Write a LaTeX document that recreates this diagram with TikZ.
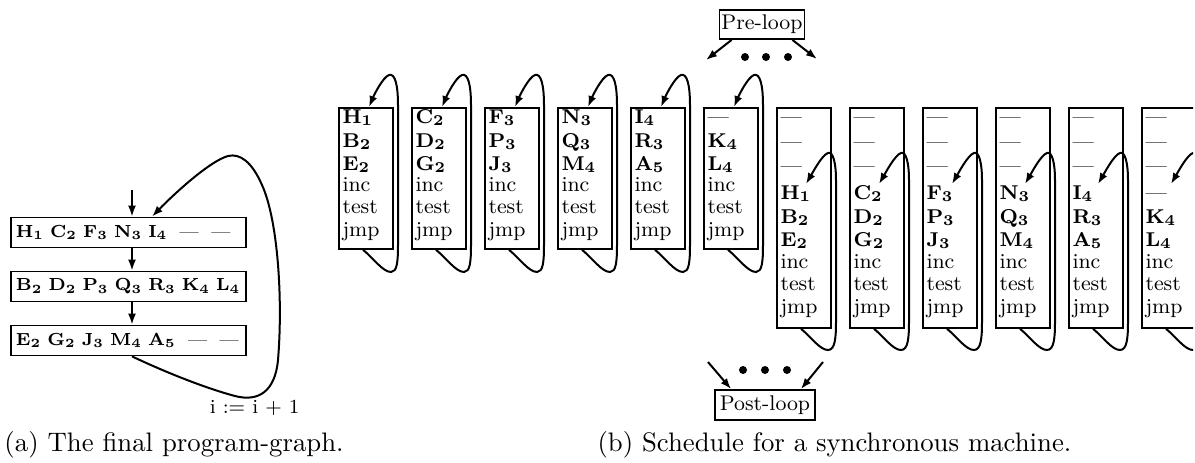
\documentclass[tikz,border=0pt]{standalone}
\usetikzlibrary{arrows.meta,calc}
\newcommand\op[1]{$\mathbf{#1}$}
\newcommand\gp{\hspace{2.4pt}}
\begin{document}
\begin{tikzpicture}[x=0.4pt,y=-0.4pt,
  >={Latex[length=4.4pt,width=3.2pt]},
  wire/.style={line width=0.8pt,->},
  frame/.style={draw,line width=0.7pt},
  colbox/.style={frame,inner sep=0pt,anchor=north west,minimum width=21.6pt},
  item/.style={anchor=base west,inner sep=0pt,font=\fontsize{8}{10}\selectfont},
  word/.style={item,font=\fontsize{8.5}{10}\selectfont},
  rowbox/.style={frame,anchor=west,text width=90pt,inner xsep=2pt,inner ysep=0pt,
    minimum height=12pt,align=left,font=\fontsize{6.9}{9}\selectfont},
  tag/.style={frame,inner sep=0pt,font=\fontsize{8.5}{10}\selectfont},
  dot/.style={circle,fill,inner sep=0pt,minimum size=3.2pt},
  caption/.style={anchor=base west,inner sep=0pt,font=\fontsize{10.7}{13}\selectfont}]

\useasboundingbox (0,0) rectangle (1195,462);
\clip (0,0) rectangle (1193,462);

% ---------- (a) the program graph ----------
\node[rowbox] (g1) at (10,232.5) {\mbox{\op{H_1}\gp\op{C_2}\gp\op{F_3}\gp\op{N_3}\gp\op{I_4}\gp\gp---\gp\gp---}};
\node[rowbox] (g2) at (10,286.5) {\mbox{\op{B_2}\gp\op{D_2}\gp\op{P_3}\gp\op{Q_3}\gp\op{R_3}\gp\op{K_4}\gp\op{L_4}}};
\node[rowbox] (g3) at (10,340.5) {\mbox{\op{E_2}\gp\op{G_2}\gp\op{J_3}\gp\op{M_4}\gp\op{A_5}\gp\gp---\gp\gp---}};

\coordinate (entry) at (132,190);
\draw[wire] (entry) -- (entry |- g1.north);
\draw[wire] (g1.south -| entry) -- (g2.north -| entry);
\draw[wire] (g2.south -| entry) -- (g3.north -| entry);
% back edge of the loop
\draw[wire] (g3.south -| entry) .. controls (165,372) and (205,388) .. (235,396)
  .. controls (258,402) and (275,392) .. (278,360)
  .. controls (283,300) and (278,220) .. (262,185)
  .. controls (252,162) and (240,153) .. (228,156)
  .. controls (210,161) and (175,193) .. ($(g1.north west)+(142,0)$);
\node[anchor=base east,inner sep=0pt,font=\fontsize{8}{10}\selectfont] (incr) at (300,413) {i := i + 1};

\node[caption] (capa) at (4,451) {(a) The final program-graph.};

% ---------- (b) the schedule ----------
% prologue columns
\foreach \k/\a/\b/\c in {0/\op{H_1}/\op{B_2}/\op{E_2},1/\op{C_2}/\op{D_2}/\op{G_2},
    2/\op{F_3}/\op{P_3}/\op{J_3},3/\op{N_3}/\op{Q_3}/\op{M_4},
    4/\op{I_4}/\op{R_3}/\op{A_5},5/---/\op{K_4}/\op{L_4}}{
  \pgfmathsetmacro\cx{338+73*\k}
  \node[colbox,minimum height=56.4pt] (p\k) at (\cx,107) {};
  \node[item] (p\k-1) at (\cx+4,123) {\a};
  \node[item] (p\k-2) at (\cx+4,147) {\b};
  \node[item] (p\k-3) at (\cx+4,170) {\c};
  \node[word] (p\k-4) at (\cx+4,191) {inc};
  \node[word] (p\k-5) at (\cx+4,213) {test};
  \node[word] (p\k-6) at (\cx+4,236) {jmp};
  \draw[wire] ($(p\k.south west)+(25,0)$) .. controls (\cx+35,258) and (\cx+45,272) .. (\cx+53,272)
    .. controls (\cx+59,272) and (\cx+60,262) .. (\cx+60,245) -- (\cx+60,105)
    .. controls (\cx+60,85) and (\cx+57,73) .. (\cx+51,75)
    .. controls (\cx+45,77) and (\cx+36,95) .. ($(p\k.north west)+(31,0)$);
}
% steady-state columns
\foreach \k/\a/\b/\c in {0/\op{H_1}/\op{B_2}/\op{E_2},1/\op{C_2}/\op{D_2}/\op{G_2},
    2/\op{F_3}/\op{P_3}/\op{J_3},3/\op{N_3}/\op{Q_3}/\op{M_4},
    4/\op{I_4}/\op{R_3}/\op{A_5},5/---/\op{K_4}/\op{L_4}}{
  \pgfmathsetmacro\cx{338+73*(\k+6)}
  \node[colbox,minimum height=88pt] (s\k) at (\cx,107) {};
  \node[item] (s\k-1) at (\cx+4,123) {---};
  \node[item] (s\k-2) at (\cx+4,148) {---};
  \node[item] (s\k-3) at (\cx+4,172) {---};
  \node[item] (s\k-4) at (\cx+4,199) {\a};
  \node[item] (s\k-5) at (\cx+4,223) {\b};
  \node[item] (s\k-6) at (\cx+4,246) {\c};
  \node[word] (s\k-7) at (\cx+4,268) {inc};
  \node[word] (s\k-8) at (\cx+4,290) {test};
  \node[word] (s\k-9) at (\cx+4,313) {jmp};
  \draw[wire] ($(s\k.south west)+(25,0)$) .. controls (\cx+35,337) and (\cx+44,350) .. (\cx+52,350)
    .. controls (\cx+59,350) and (\cx+60,338) .. (\cx+60,322) -- (\cx+60,180)
    .. controls (\cx+60,163) and (\cx+57,151) .. (\cx+52,153)
    .. controls (\cx+46,155) and (\cx+37,172) .. ($(s\k.north west)+(30,77)$);
}

% pre-loop and post-loop
\node[tag,minimum width=34pt,minimum height=11.6pt] (pre) at (762,24.5) {Pre-loop};
\coordinate (preL) at (706,60);
\coordinate (preR) at (817,59);
\draw[wire] ($(pre.south west)+(13,0)$) -- (preL);
\draw[wire] ($(pre.south east)+(-13,0)$) -- (preR);
\node[dot] (pd1) at (745,57) {};
\node[dot] (pd2) at (766,57) {};
\node[dot] (pd3) at (788,57) {};

\node[tag,minimum width=40pt,minimum height=12pt] (post) at (765,405) {Post-loop};
\coordinate (postL) at (708,362);
\coordinate (postR) at (823,362);
\draw[wire] (postL) -- ($(post.north west)+(17,0)$);
\draw[wire] (postR) -- ($(post.north east)+(-15,0)$);
\node[dot] (qd1) at (743,370) {};
\node[dot] (qd2) at (765,370) {};
\node[dot] (qd3) at (787,370) {};

\node[caption] (capb) at (597,451) {(b) Schedule for a synchronous machine.};
\end{tikzpicture}
\end{document}
